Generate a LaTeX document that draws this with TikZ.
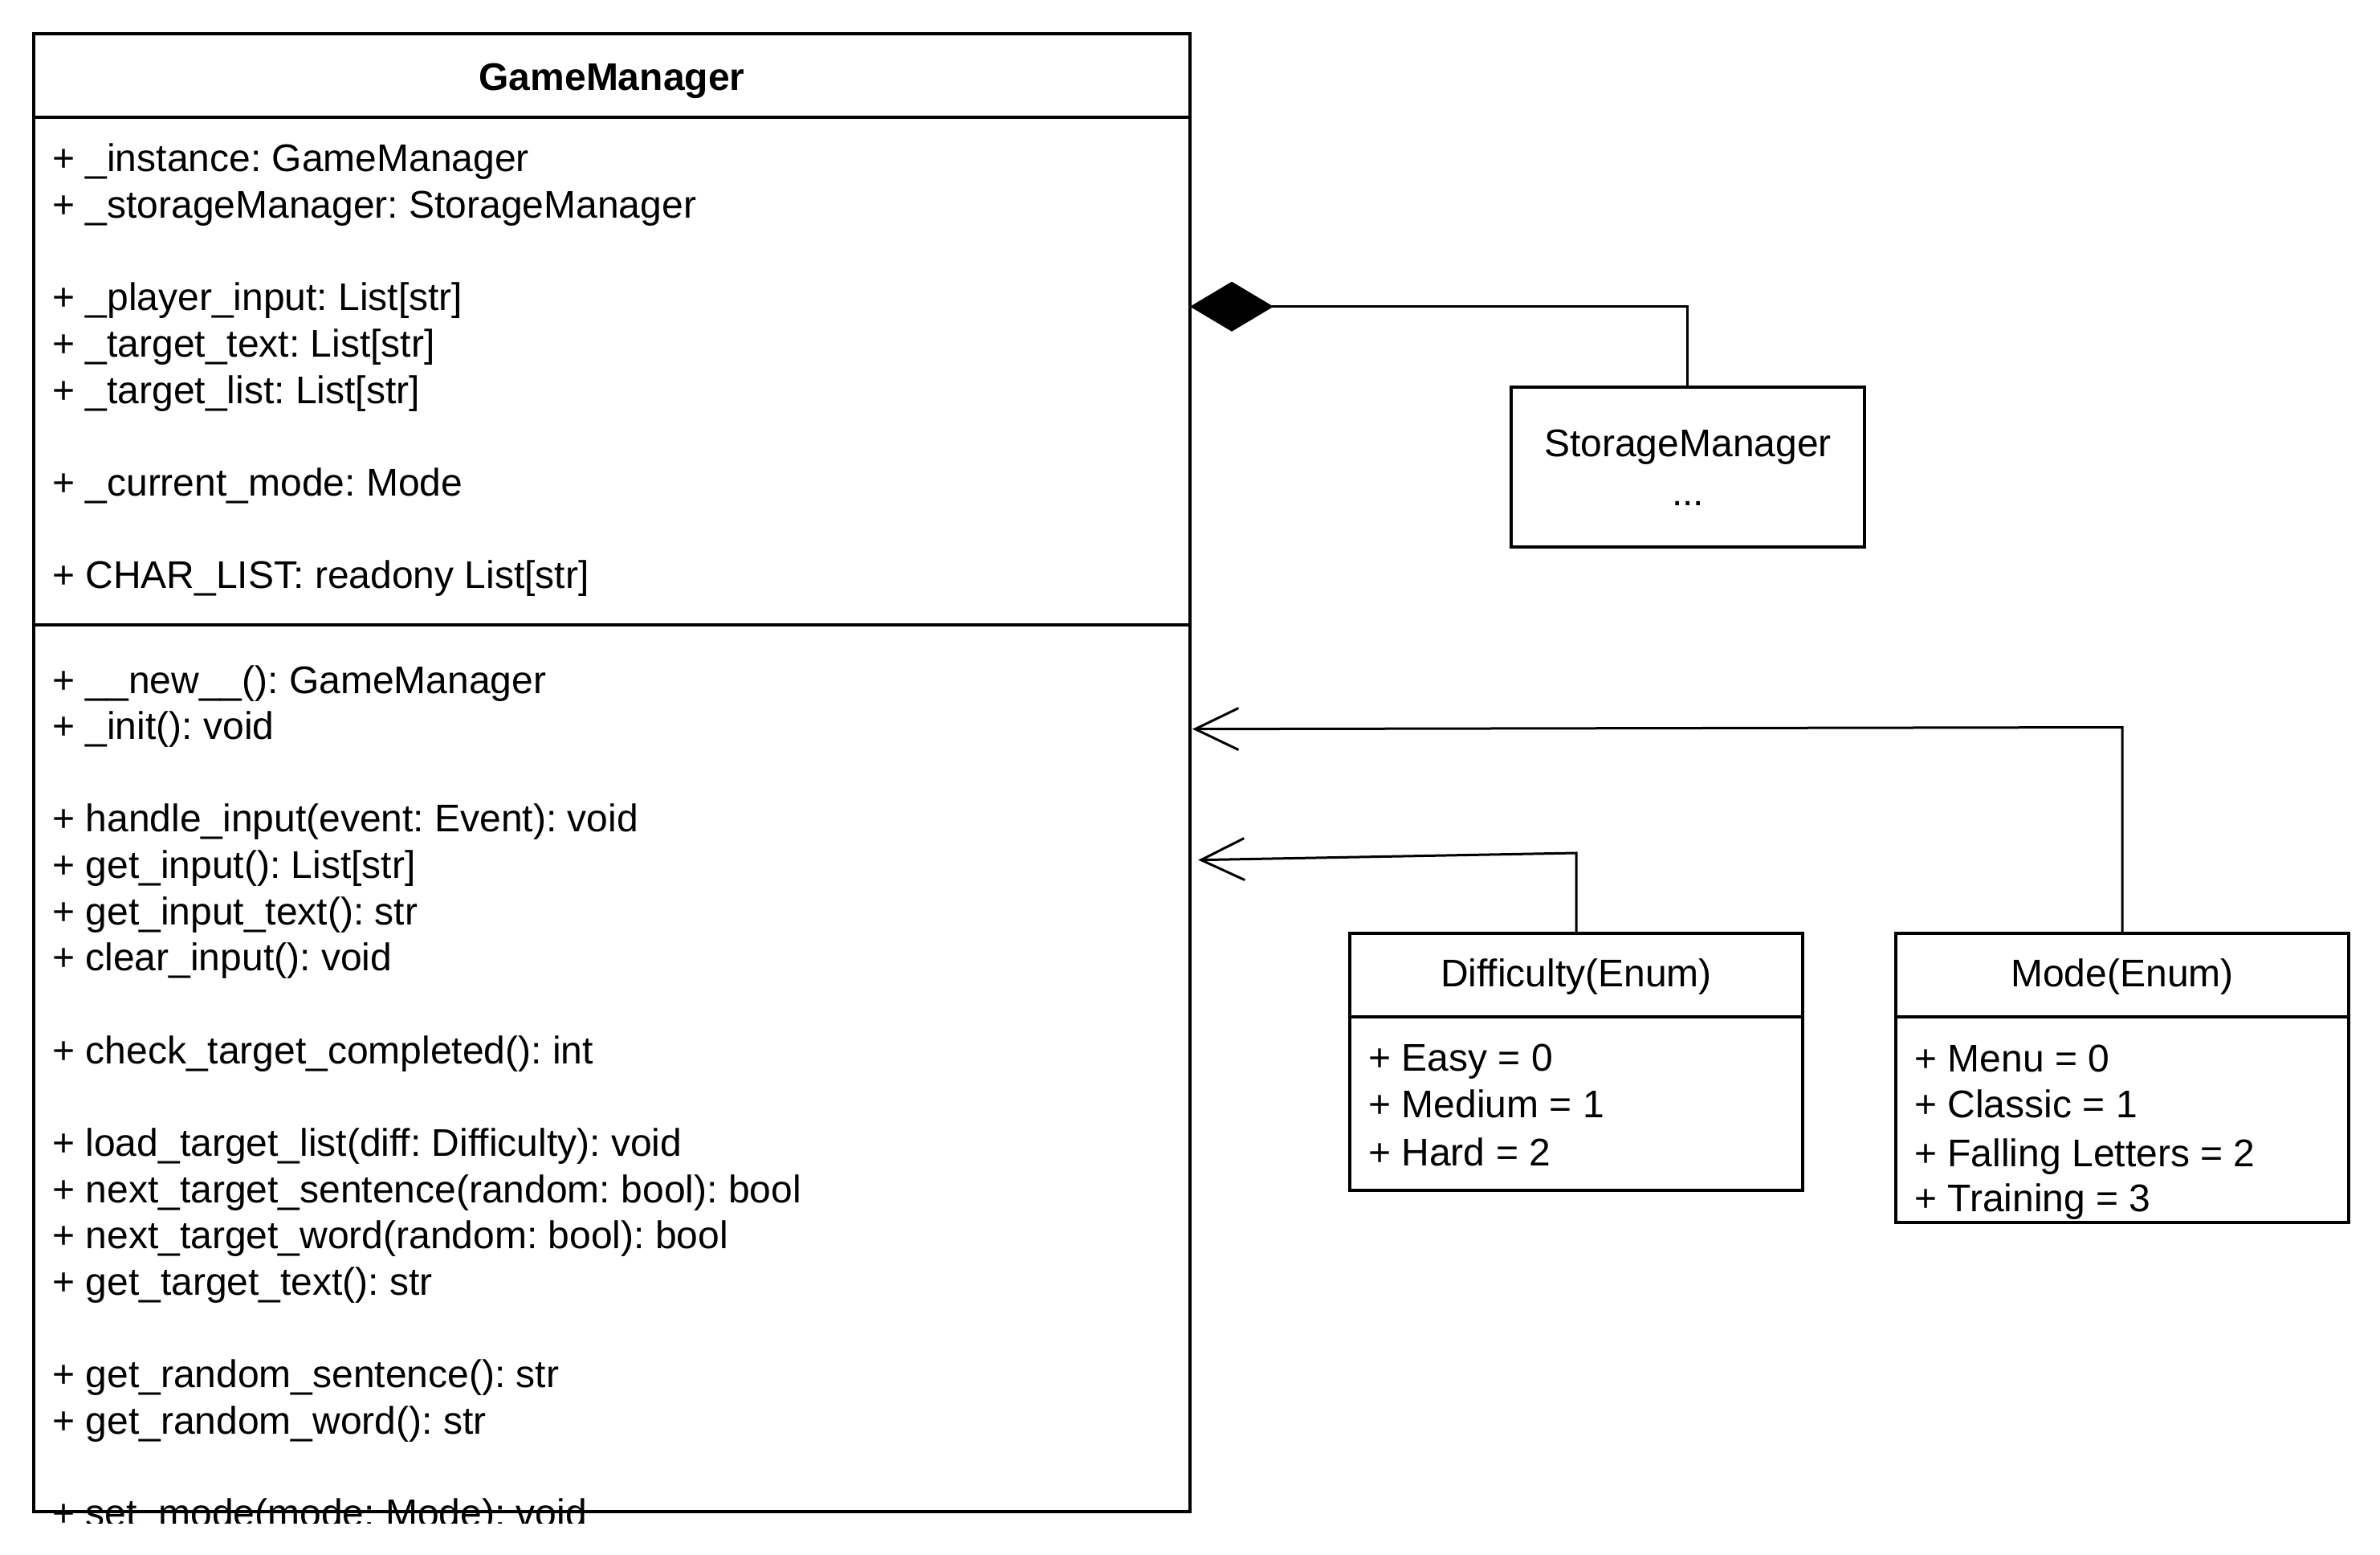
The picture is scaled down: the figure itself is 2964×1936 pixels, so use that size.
\documentclass[tikz,border=0pt]{standalone}
\usepackage{fontspec}
\setmainfont{Liberation Sans}
\usetikzlibrary{arrows.meta,calc}
\frenchspacing
\begin{document}
\begin{tikzpicture}[x=0.25pt,y=-0.25pt,
  box/.style={draw,line width=0.95pt,inner sep=0pt,outer sep=0pt,anchor=north west},
  txt/.style={anchor=base west,inner sep=0pt,font=\fontsize{12}{14.4}\selectfont\frenchspacing},
  ctxt/.style={anchor=base,inner sep=0pt,font=\fontsize{12}{14.4}\selectfont\frenchspacing},
  conn/.style={line width=0.75pt},
  comp/.style={conn,-{Diamond[length=26pt,width=15.5pt]}},
  dep/.style={conn,-{Straight Barb[length=13.5pt,width=13pt]}}]
\useasboundingbox (0,0) rectangle (2964,1936);
\fill[white] (0,0) rectangle (2964,1936);

% GameManager class
\node[box,minimum width=360pt,minimum height=25.93pt] (gmt) at (42,42) {};
\node[box,minimum width=360pt,minimum height=158pt] (gma) at (42,145.7) {};
\node[box,minimum width=360pt,minimum height=276.1pt] (gmm) at (42,777.7) {};
\node[ctxt,font=\fontsize{12}{14.4}\selectfont\bfseries] (gmtitle) at (762,113) {GameManager};

\node[txt] (a0) at (64.5,214) {+ \_instance: GameManager};
\node[txt] (a1) at (64.5,271.6) {+ \_storageManager: StorageManager};
\node[txt] (a3) at (64.5,386.8) {+ \_player\_input: List[str]};
\node[txt] (a4) at (64.5,444.4) {+ \_target\_text: List[str]};
\node[txt] (a5) at (64.5,502) {+ \_target\_list: List[str]};
\node[txt] (a7) at (64.5,617.2) {+ \_current\_mode: Mode};
\node[txt] (a9) at (64.5,732.4) {+ CHAR\_LIST: readony List[str]};

\node[txt] (m0) at (64.5,863) {+ \_\_new\_\_(): GameManager};
\node[txt] (m1) at (64.5,920.6) {+ \_init(): void};
\node[txt] (m3) at (64.5,1035.9) {+ handle\_input(event: Event): void};
\node[txt] (m4) at (64.5,1093.6) {+ get\_input(): List[str]};
\node[txt] (m5) at (64.5,1151.2) {+ get\_input\_text(): str};
\node[txt] (m6) at (64.5,1208.8) {+ clear\_input(): void};
\node[txt] (m8) at (64.5,1324.1) {+ check\_target\_completed(): int};
\node[txt] (m10) at (64.5,1439.4) {+ load\_target\_list(diff: Difficulty): void};
\node[txt] (m11) at (64.5,1497) {+ next\_target\_sentence(random: bool): bool};
\node[txt] (m12) at (64.5,1554.7) {+ next\_target\_word(random: bool): bool};
\node[txt] (m13) at (64.5,1612.3) {+ get\_target\_text(): str};
\node[txt] (m15) at (64.5,1727.6) {+ get\_random\_sentence(): str};
\node[txt] (m16) at (64.5,1785.2) {+ get\_random\_word(): str};
\begin{scope}
\clip (0,0) rectangle (2964,1896);
\node[txt] (m18) at (64.5,1900.5) {+ set\_mode(mode: Mode): void};
\end{scope}

% StorageManager
\node[box,minimum width=110.1pt,minimum height=49.75pt] (sm) at (1881.7,481.7) {};
\node[ctxt] (smname) at (2102,568.5) {StorageManager};
\node[ctxt] (smdots) at (2102,629) {...};

% Difficulty enum
\node[box,minimum width=141pt,minimum height=26pt] (difft) at (1681,1162) {};
\node[box,minimum width=141pt,minimum height=54pt] (diffb) at (1681,1266) {};
\node[ctxt] (dtitle) at (1963,1228) {Difficulty(Enum)};
\node[txt] (d0) at (1703.5,1333.5) {+ Easy = 0};
\node[txt] (d1) at (1703.5,1391) {+ Medium = 1};
\node[txt] (d2) at (1703.5,1451) {+ Hard = 2};

% Mode enum
\node[box,minimum width=141pt,minimum height=26pt] (modet) at (2361,1162) {};
\node[box,minimum width=141pt,minimum height=64pt] (modeb) at (2361,1266) {};
\node[ctxt] (mtitle) at (2643,1228) {Mode(Enum)};
\node[txt] (e0) at (2383.5,1334) {+ Menu = 0};
\node[txt] (e1) at (2383.5,1391.5) {+ Classic = 1};
\node[txt] (e2) at (2383.5,1452) {+ Falling Letters = 2};
\node[txt] (e3) at (2383.5,1508.5) {+ Training = 3};

% connectors
\draw[comp] (sm.north) |- ($(gma.north east)+(0,236)$);
\draw[dep] (modet.north) -- ($(modet.north)+(0,-256.5)$) -- ($(gmm.north east)+(3,130)$);
\draw[dep] (difft.north) -- ($(difft.north)+(0,-100)$) -- ($(gmm.north east)+(10.3,293)$);
\end{tikzpicture}
\end{document}
